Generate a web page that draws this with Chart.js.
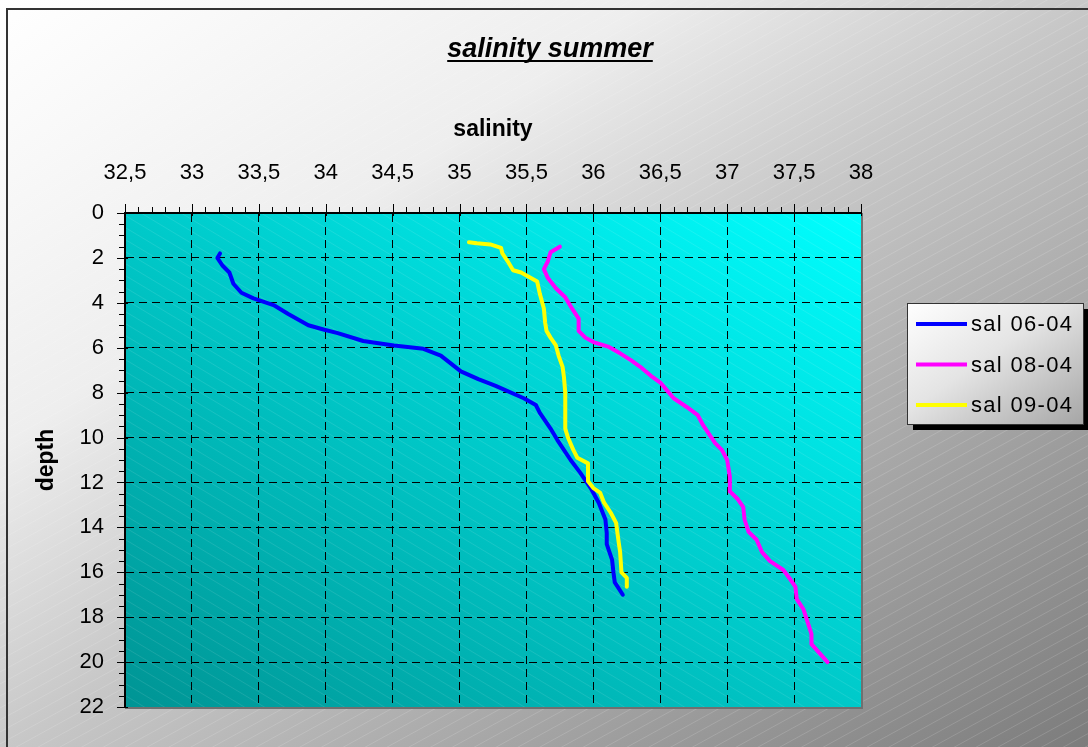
<!DOCTYPE html>
<html>
<head>
<meta charset="utf-8">
<script src="https://cdn.jsdelivr.net/npm/chart.js@4.4.1/dist/chart.umd.min.js"></script>
<style>
  html, body { margin: 0; padding: 0; background: #fff; overflow: hidden; }
  canvas { display: block; }
</style>
</head>
<body>
<canvas id="chart" width="1088" height="747"></canvas>
<script>
// Series names and colours
const seriesNames = ['sal 06-04', 'sal 08-04', 'sal 09-04'];
const seriesColors = ['#0000ff', '#ff00ff', '#ffff00'];

// sal 06-04 profile: salinity vs depth
const sal06 = [33.21, 33.19, 33.23, 33.28, 33.31, 33.37, 33.46, 33.61, 33.72, 33.87,
               33.99, 34.09, 34.28, 34.51, 34.73, 34.86, 35.01, 35.14, 35.27, 35.48,
               35.57, 35.60, 35.68, 35.73, 35.83, 35.90, 35.98, 36.04, 36.09, 36.10,
               36.10, 36.14, 36.15, 36.16, 36.22];
const depth06 = [1.8, 2.0, 2.35, 2.65, 3.15, 3.55, 3.8, 4.1, 4.5, 5.0,
                 5.2, 5.35, 5.7, 5.9, 6.05, 6.35, 7.05, 7.4, 7.7, 8.25,
                 8.55, 8.9, 9.6, 10.1, 11.0, 11.55, 12.25, 12.9, 13.65, 14.25,
                 14.75, 15.45, 16.0, 16.45, 17.0];

// sal 08-04 profile
const sal08 = [35.75, 35.68, 35.66, 35.63, 35.66, 35.72, 35.79, 35.84, 35.89, 35.89,
               35.94, 36.00, 36.11, 36.20, 36.28, 36.35, 36.43, 36.50, 36.55, 36.60,
               36.70, 36.78, 36.82, 36.86, 36.91, 36.96, 37.00, 37.02, 37.02, 37.08,
               37.12, 37.13, 37.16, 37.22, 37.26, 37.32, 37.42, 37.47, 37.51, 37.52,
               37.57, 37.60, 37.63, 37.63, 37.75];
const depth08 = [1.5, 1.75, 2.15, 2.5, 2.9, 3.35, 3.75, 4.25, 4.7, 5.25,
                 5.55, 5.75, 5.95, 6.25, 6.55, 6.85, 7.25, 7.55, 7.9, 8.25,
                 8.65, 9.0, 9.45, 9.8, 10.25, 10.55, 11.0, 11.75, 12.4, 12.75,
                 13.1, 13.65, 14.2, 14.55, 15.1, 15.5, 15.9, 16.3, 16.65, 17.2,
                 17.65, 18.2, 18.75, 19.2, 20.0];

// sal 09-04 profile
const sal09 = [35.07, 35.13, 35.23, 35.31, 35.32, 35.36, 35.40, 35.46, 35.52, 35.58,
               35.60, 35.63, 35.64, 35.65, 35.68, 35.72, 35.74, 35.77, 35.78, 35.79,
               35.79, 35.81, 35.85, 35.88, 35.96, 35.96, 35.96, 36.00, 36.05, 36.08,
               36.13, 36.17, 36.19, 36.20, 36.21, 36.25, 36.25];
const depth09 = [1.3, 1.35, 1.4, 1.55, 1.8, 2.15, 2.55, 2.65, 2.85, 3.05,
                 3.6, 4.25, 4.9, 5.25, 5.55, 5.9, 6.35, 6.85, 7.3, 8.0,
                 9.6, 10.0, 10.55, 10.9, 11.15, 11.55, 11.95, 12.25, 12.45, 12.9,
                 13.35, 13.8, 14.7, 15.1, 16.0, 16.25, 16.65];

// Axis ranges and tick steps
const salMin = 32.5, salMax = 38, salStep = 0.5, salMinorStep = 0.1;
const depthMin = 0, depthMax = 22, depthStep = 2, depthMinorStep = 0.5;

const FONT = '"Liberation Sans", Arial, sans-serif';
Chart.defaults.font.family = FONT;

function toPoints(xs, ys) { return xs.map((x, i) => ({ x: x, y: ys[i] })); }

// Thin diagonal hatch lines over a rectangle
function hatch(ctx, x0, y0, x1, y1, slope, gap, color, rising) {
  const w = x1 - x0;
  ctx.save();
  ctx.beginPath(); ctx.rect(x0, y0, w, y1 - y0); ctx.clip();
  ctx.strokeStyle = color; ctx.lineWidth = 1;
  ctx.beginPath();
  for (let c = y0 - slope * w - gap; c <= y1 + slope * w + gap; c += gap) {
    if (rising) { ctx.moveTo(x0, c + slope * w); ctx.lineTo(x1, c); }
    else { ctx.moveTo(x0, c); ctx.lineTo(x1, c + slope * w); }
  }
  ctx.stroke();
  ctx.restore();
}

// Diagonal gradient laid out in the box's own unit square
function boxGradient(ctx, x, y, w, h, stops, fromBottomLeft) {
  ctx.save();
  ctx.translate(x, y); ctx.scale(w, h);
  const g = fromBottomLeft ? ctx.createLinearGradient(0, 1, 1, 0) : ctx.createLinearGradient(0, 0, 1, 1);
  stops.forEach(s => g.addColorStop(s[0], s[1]));
  ctx.fillStyle = g;
  ctx.fillRect(0, 0, 1, 1);
  ctx.restore();
}

const backdrop = {
  id: 'backdrop',
  beforeDraw(chart) {
    const { ctx, chartArea: a, width, height } = chart;
    boxGradient(ctx, 0, 0, width, height,
      [[0, '#ffffff'], [0.3, '#eeeeee'], [0.5, '#c8c8c8'], [1, '#7c7c7c']], false);
    hatch(ctx, 0, 0, width, height, 0.55, 12, 'rgba(255,255,255,0.15)', true);
    // outer frame (left and top edges fall inside the page)
    ctx.fillStyle = '#333';
    ctx.fillRect(6, 8, width, 2);
    ctx.fillRect(6, 8, 2, height);
    // plot area
    boxGradient(ctx, a.left, a.top, a.right - a.left, a.bottom - a.top,
      [[0, '#009494'], [1, '#00ffff']], true);
    hatch(ctx, a.left, a.top, a.right, a.bottom, 0.6, 12, 'rgba(255,255,255,0.1)', false);
  }
};

const decorations = {
  id: 'decorations',
  afterDraw(chart) {
    const { ctx, chartArea: a } = chart;
    const xs = chart.scales.x, ys = chart.scales.y;

    // plot area right/bottom edge
    ctx.fillStyle = '#707070';
    ctx.fillRect(a.right, a.top, 2, a.bottom - a.top + 2);
    ctx.fillRect(a.left, a.bottom, a.right - a.left + 2, 2);

    // major and minor tick marks
    ctx.save();
    ctx.strokeStyle = '#000'; ctx.lineWidth = 1;
    ctx.beginPath();
    const nx = Math.round((salMax - salMin) / salMinorStep);
    const perX = Math.round(salStep / salMinorStep);
    for (let i = 0; i <= nx; i++) {
      const px = Math.round(xs.getPixelForValue(salMin + i * salMinorStep)) + 0.5;
      const major = i % perX === 0;
      ctx.moveTo(px, a.top - (major ? 9 : 6));
      ctx.lineTo(px, a.top + (major ? 3 : 0));
    }
    const ny = Math.round((depthMax - depthMin) / depthMinorStep);
    const perY = Math.round(depthStep / depthMinorStep);
    for (let i = 0; i <= ny; i++) {
      const py = Math.round(ys.getPixelForValue(depthMin + i * depthMinorStep)) + 0.5;
      const major = i % perY === 0;
      ctx.moveTo(a.left - (major ? 8 : 6), py);
      ctx.lineTo(a.left + (major ? 3 : 0), py);
    }
    ctx.stroke();
    ctx.restore();

    // chart title
    ctx.save();
    ctx.font = 'italic bold 27px ' + FONT;
    ctx.fillStyle = '#000';
    ctx.textAlign = 'center';
    ctx.textBaseline = 'alphabetic';
    const title = 'salinity summer';
    const tx = 550, ty = 57;
    ctx.fillText(title, tx, ty);
    const tw = ctx.measureText(title).width;
    ctx.fillRect(tx - tw / 2, ty + 3, tw, 2);
    ctx.restore();

    // legend
    const L = { x: 907, y: 303, w: 176, h: 121 };
    ctx.save();
    ctx.fillStyle = '#000';
    ctx.fillRect(L.x + 6, L.y + 6, L.w, L.h);
    boxGradient(ctx, L.x, L.y, L.w, L.h, [[0, '#ffffff'], [0.45, '#e4e4e4'], [1, '#a6a6a6']], false);
    ctx.strokeStyle = '#333'; ctx.lineWidth = 1;
    ctx.strokeRect(L.x + 0.5, L.y + 0.5, L.w, L.h);
    ctx.font = '22px ' + FONT;
    ctx.letterSpacing = '1.3px';
    ctx.textBaseline = 'middle';
    ctx.textAlign = 'left';
    chart.data.datasets.forEach((ds, i) => {
      const ly = L.y + 21 + i * 40.5;
      ctx.strokeStyle = ds.borderColor; ctx.lineWidth = 4; ctx.lineCap = 'butt';
      ctx.beginPath(); ctx.moveTo(L.x + 9, ly); ctx.lineTo(L.x + 60, ly); ctx.stroke();
      ctx.fillStyle = '#000';
      ctx.fillText(ds.label, L.x + 64, ly + 1);
    });
    ctx.restore();
  }
};

const salData = [sal06, sal08, sal09];
const depthData = [depth06, depth08, depth09];

new Chart(document.getElementById('chart'), {
  type: 'scatter',
  data: {
    datasets: seriesNames.map((name, i) => ({
      label: name,
      data: toPoints(salData[i], depthData[i]),
      showLine: true,
      borderColor: seriesColors[i],
      backgroundColor: seriesColors[i],
      borderWidth: 4,
      pointRadius: 0,
      borderJoinStyle: 'round',
      borderCapStyle: 'round',
      order: 3 - i
    }))
  },
  options: {
    responsive: false,
    animation: false,
    devicePixelRatio: 1,
    layout: { padding: { left: 0, top: 0, right: 227, bottom: 40 } },
    plugins: { legend: { display: false }, tooltip: { enabled: false }, title: { display: false } },
    scales: {
      x: {
        type: 'linear', position: 'top',
        min: salMin, max: salMax,
        afterFit(scale) { scale.height = 213; },
        ticks: {
          stepSize: salStep, color: '#000', padding: 27,
          font: { size: 22 },
          callback: v => String(Math.round(v * 10) / 10).replace('.', ',')
        },
        grid: {
          drawTicks: false, lineWidth: 1,
          color: c => (c.tick && Math.abs(c.tick.value - salMax) < 1e-6) ? 'rgba(0,0,0,0)' : '#000'
        },
        border: { display: true, color: '#000', width: 2, dash: [8, 5] },
        title: { display: true, text: 'salinity', color: '#000', font: { size: 23, weight: 'bold' }, padding: { top: 116, bottom: 0 } }
      },
      y: {
        type: 'linear', reverse: true,
        min: depthMin, max: depthMax,
        afterFit(scale) { scale.width = 125; },
        ticks: { stepSize: depthStep, color: '#000', padding: 21, font: { size: 22 } },
        grid: {
          drawTicks: false, lineWidth: 1,
          color: c => (c.tick && Math.abs(c.tick.value - depthMax) < 1e-6) ? 'rgba(0,0,0,0)' : '#000'
        },
        border: { display: true, color: '#000', width: 2, dash: [8, 5] },
        title: { display: true, text: 'depth', color: '#000', font: { size: 23, weight: 'bold' }, padding: { top: 33, bottom: 0 } }
      }
    }
  },
  plugins: [backdrop, decorations]
});
</script>
</body>
</html>
